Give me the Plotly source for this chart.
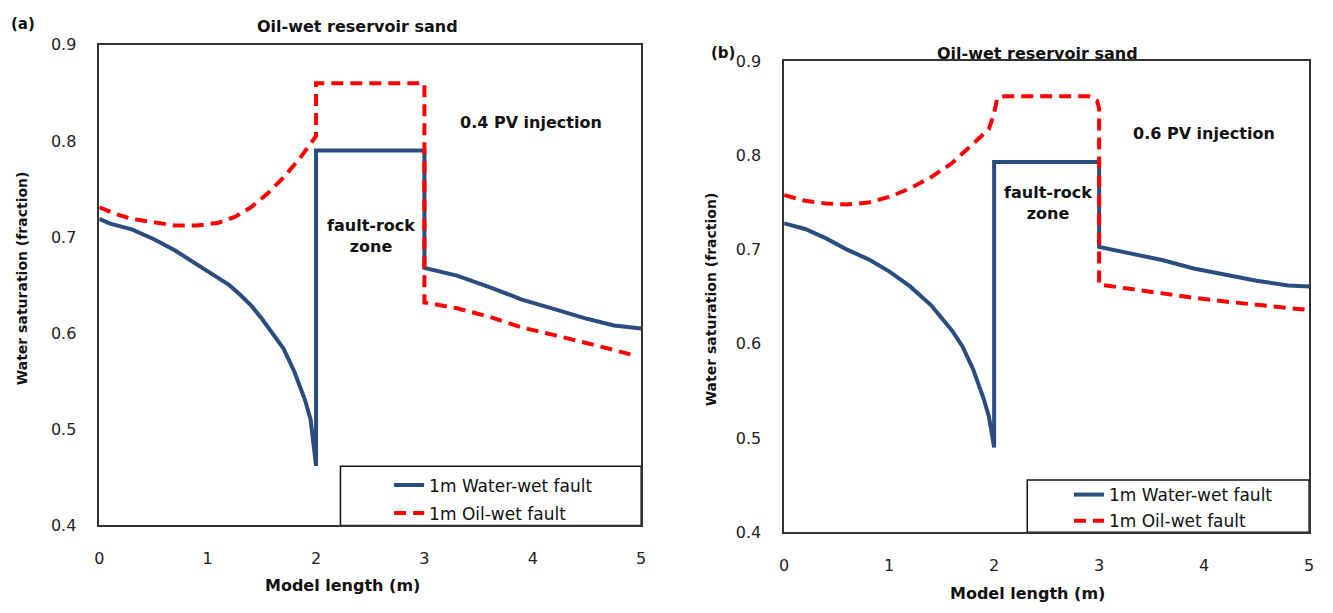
import plotly.graph_objects as go

# ---------------- data ----------------
# Panel (a): 0.4 PV injection
a_water_x = [0, 0.1, 0.3, 0.5, 0.7, 0.9, 1.0, 1.1, 1.2, 1.3, 1.4, 1.5, 1.6, 1.7, 1.8, 1.9, 1.95, 2.0,
             2.0, 3.0, 3.0, 3.3, 3.6, 3.9, 4.2, 4.5, 4.75, 5.0]
a_water_y = [0.719, 0.714, 0.708, 0.698, 0.686, 0.672, 0.664, 0.658, 0.650, 0.640, 0.629, 0.615, 0.600, 0.584, 0.560, 0.530, 0.510, 0.462,
             0.790, 0.790, 0.668, 0.660, 0.648, 0.635, 0.625, 0.615, 0.608, 0.605]
a_oil_x = [0, 0.15, 0.3, 0.5, 0.7, 0.9, 1.1, 1.25, 1.4, 1.55, 1.7, 1.85, 2.0,
           2.0, 3.0, 3.0, 3.3, 3.6, 3.9, 4.2, 4.5, 4.7, 4.9]
a_oil_y = [0.731, 0.724, 0.719, 0.715, 0.712, 0.712, 0.715, 0.721, 0.731, 0.745, 0.762, 0.782, 0.805,
           0.860, 0.860, 0.632, 0.626, 0.617, 0.606, 0.598, 0.590, 0.584, 0.578]

# Panel (b): 0.6 PV injection
b_water_x = [0, 0.2, 0.4, 0.6, 0.8, 1.0, 1.2, 1.4, 1.6, 1.7, 1.8, 1.9, 1.95, 2.0,
             2.0, 3.0, 3.0, 3.3, 3.6, 3.9, 4.2, 4.5, 4.8, 5.0]
b_water_y = [0.728, 0.722, 0.712, 0.700, 0.690, 0.677, 0.661, 0.641, 0.614, 0.597, 0.573, 0.542, 0.523, 0.490,
             0.793, 0.793, 0.703, 0.696, 0.689, 0.680, 0.673, 0.667, 0.662, 0.661]
b_oil_x = [0, 0.2, 0.4, 0.6, 0.8, 1.0, 1.2, 1.4, 1.6, 1.8, 1.95, 2.0, 2.03, 2.1, 2.9, 2.98, 3.0,
           3.0, 3.3, 3.6, 3.9, 4.2, 4.5, 4.8, 5.0]
b_oil_y = [0.758, 0.752, 0.749, 0.748, 0.750, 0.756, 0.765, 0.777, 0.792, 0.812, 0.828, 0.845, 0.861, 0.863, 0.863, 0.858, 0.850,
           0.663, 0.658, 0.654, 0.649, 0.645, 0.641, 0.638, 0.636]

series_names = ["1m Water-wet fault", "1m Oil-wet fault"]
panel_titles = ["Oil-wet reservoir sand", "Oil-wet reservoir sand"]
panel_labels = ["(a)", "(b)"]
injection_labels = ["0.4 PV injection", "0.6 PV injection"]
x_ticks = [0, 1, 2, 3, 4, 5]
y_ticks = [0.4, 0.5, 0.6, 0.7, 0.8, 0.9]

# ---------------- styling ----------------
W, H = 1333, 613
BLUE = "#2a4d7f"
RED = "#ff0000"
TICK_FONT = dict(family="DejaVu Sans", size=16, color="#222222")
BOLD = "DejaVu Sans"

# plot-area pixel boxes (left, right, top, bottom)
A_BOX = (95, 641, 37, 533)
B_BOX = (785, 1314, 54, 540)

def px_x(p):
    return p / W

def px_y(p):
    return 1 - p / H

fig = go.Figure()

fig.add_trace(go.Scatter(x=a_water_x, y=a_water_y, mode="lines", name=series_names[0],
                         line=dict(color=BLUE, width=4), xaxis="x", yaxis="y",
                         legend="legend", legendgroup="aw"))
fig.add_trace(go.Scatter(x=a_oil_x, y=a_oil_y, mode="lines", name=series_names[1],
                         line=dict(color=RED, width=4, dash="12px,7px"), xaxis="x", yaxis="y",
                         legend="legend", legendgroup="ao"))
fig.add_trace(go.Scatter(x=b_water_x, y=b_water_y, mode="lines", name=series_names[0],
                         line=dict(color=BLUE, width=4), xaxis="x2", yaxis="y2",
                         legend="legend2", legendgroup="bw"))
fig.add_trace(go.Scatter(x=b_oil_x, y=b_oil_y, mode="lines", name=series_names[1],
                         line=dict(color=RED, width=4, dash="12px,7px"), xaxis="x2", yaxis="y2",
                         legend="legend2", legendgroup="bo"))

axis_common = dict(showgrid=False, zeroline=False, showline=True, mirror=True,
                   linecolor="#333333", linewidth=1.5, ticks="", tickfont=TICK_FONT)

fig.update_layout(
    width=W, height=H,
    margin=dict(l=0, r=0, t=0, b=0),
    paper_bgcolor="white", plot_bgcolor="white",
    xaxis=dict(domain=[px_x(A_BOX[0]), px_x(A_BOX[1])], range=[0, 5], tickvals=x_ticks,
               anchor="y", ticklabelstandoff=18, **axis_common),
    yaxis=dict(domain=[px_y(A_BOX[3]), px_y(A_BOX[2])], range=[0.4, 0.9], tickvals=y_ticks,
               tickformat=".1f", anchor="x", ticklabelstandoff=18, **axis_common),
    xaxis2=dict(domain=[px_x(B_BOX[0]), px_x(B_BOX[1])], range=[0, 5], tickvals=x_ticks,
                anchor="y2", ticklabelstandoff=18, **axis_common),
    yaxis2=dict(domain=[px_y(B_BOX[3]), px_y(B_BOX[2])], range=[0.4, 0.9], tickvals=y_ticks,
                tickformat=".1f", anchor="x2", ticklabelstandoff=18, **axis_common),
    legend=dict(x=px_x(387), y=px_y(473), xanchor="left", yanchor="top",
                bgcolor="rgba(0,0,0,0)", borderwidth=0, tracegroupgap=3,
                font=dict(family="DejaVu Sans", size=17, color="#111111")),
    legend2=dict(x=px_x(1072), y=px_y(483), xanchor="left", yanchor="top",
                 bgcolor="rgba(0,0,0,0)", borderwidth=0, tracegroupgap=1,
                 font=dict(family="DejaVu Sans", size=17, color="#111111")),
    showlegend=True,
)

# legend frames
fig.add_shape(type="rect", xref="x domain", yref="y domain",
              x0=(338 - A_BOX[0]) / (A_BOX[1] - A_BOX[0]), x1=1,
              y0=0, y1=(A_BOX[3] - 472) / (A_BOX[3] - A_BOX[2]),
              line=dict(color="#111111", width=1.5), fillcolor="white", layer="below")
fig.add_shape(type="rect", xref="x2 domain", yref="y2 domain",
              x0=(1030 - B_BOX[0]) / (B_BOX[1] - B_BOX[0]), x1=1,
              y0=0, y1=(B_BOX[3] - 486) / (B_BOX[3] - B_BOX[2]),
              line=dict(color="#111111", width=1.5), fillcolor="white", layer="below")

ann = []
def text(x, y, s, size=16, bold=True, xref="paper", yref="paper", angle=0):
    ann.append(dict(x=x, y=y, xref=xref, yref=yref, text=f"<b>{s}</b>" if bold else s,
                    showarrow=False, textangle=angle, xanchor="center", yanchor="middle",
                    font=dict(family=BOLD, size=size, color="#111111")))

# panel labels and titles
text(px_x(18), px_y(15), panel_labels[0], size=15)
text(px_x(723), px_y(45), panel_labels[1], size=15)
text(px_x(355), px_y(18), panel_titles[0], size=16)
text(px_x(1040), px_y(46), panel_titles[1], size=16)
# axis titles
text(px_x(340), px_y(595), "Model length (m)", size=16)
text(px_x(1030), px_y(603), "Model length (m)", size=16)
text(px_x(18), px_y(278), "Water saturation (fraction)", size=14, angle=-90)
text(px_x(711), px_y(300), "Water saturation (fraction)", size=14, angle=-90)
# in-plot notes
text(3.98, 0.819, injection_labels[0], size=16, xref="x", yref="y")
text(4.0, 0.823, injection_labels[1], size=16, xref="x2", yref="y2")
text(2.51, 0.701, "fault-rock<br>zone", size=16, xref="x", yref="y")
text(2.51, 0.750, "fault-rock<br>zone", size=16, xref="x2", yref="y2")

fig.update_layout(annotations=ann)

fig.write_html("out.html")
